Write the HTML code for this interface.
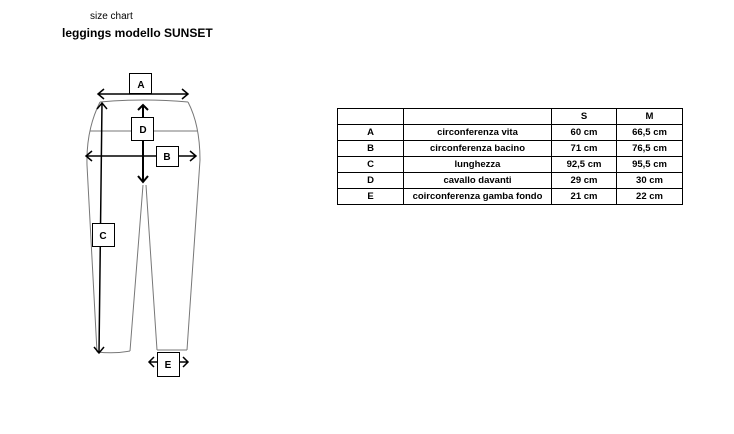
<!DOCTYPE html>
<html><head><style>
body{margin:0;width:734px;height:434px;background:#fff;position:relative;font-family:"Liberation Sans",sans-serif;overflow:hidden}
.t1{position:absolute;left:90px;top:11px;font-size:10px}
.t2{position:absolute;left:62px;top:26px;font-size:12px;font-weight:bold}
table{position:absolute;left:337px;top:108px;border-collapse:collapse;font-size:9.5px;font-weight:bold}
td{border:1px solid #000;height:15px;padding:0;text-align:center;line-height:15px}
</style></head><body>
<div class="t1">size chart</div>
<div class="t2">leggings modello SUNSET</div>
<svg width="734" height="434" style="position:absolute;left:0;top:0" font-family="Liberation Sans" font-size="10" font-weight="bold">
<g fill="none" stroke="#777" stroke-width="1">
<path d="M100 102 Q144 98 188 102"/>
<path d="M100 102 Q86 130 87 165 L97 352"/>
<path d="M188 102 Q200 125 200 160 L187 350"/>
<path d="M143 185 L130 351 M146 185 L157 350"/>
<path d="M97 352 Q115 354 130 351 M157 350 L187 350"/>
<path d="M90 131 L197 131"/>
</g>
<g stroke="#000" stroke-width="1.5" fill="none">
<path d="M98 94 L188 94 M104 89 L98 94 L104 99 M182 89 L188 94 L182 99"/>
<path d="M86 156 L196 156 M92 151 L86 156 L92 161 M190 151 L196 156 L190 161"/>
<path d="M102 103 L99 353 M97 109 L102 103 L107 109 M94 347 L99 353 L104 347"/>
<path d="M143 105 L143 182 M138 110 L143 105 L148 110 M138 176 L143 182 L148 176" stroke-width="2"/>
<path d="M149 362 L188 362 M154 357 L149 362 L154 367 M183 357 L188 362 L183 367"/>
</g>
<g fill="#fff" stroke="#000" stroke-width="1">
<rect x="129.5" y="73.5" width="22" height="20"/>
<rect x="131.5" y="117.5" width="22" height="23"/>
<rect x="156.5" y="146.5" width="22" height="20"/>
<rect x="92.5" y="223.5" width="22" height="23"/>
<rect x="157.5" y="352.5" width="22" height="24"/>
</g>
<g text-anchor="middle">
<text x="141" y="88">A</text><text x="143" y="133">D</text><text x="167" y="160">B</text><text x="103" y="239">C</text><text x="168" y="368">E</text>
</g>
</svg>
<table>
<tr><td style="width:65px"></td><td style="width:147px"></td><td style="width:64px">S</td><td style="width:65px">M</td></tr>
<tr><td>A</td><td>circonferenza vita</td><td>60 cm</td><td>66,5 cm</td></tr>
<tr><td>B</td><td>circonferenza bacino</td><td>71 cm</td><td>76,5 cm</td></tr>
<tr><td>C</td><td>lunghezza</td><td>92,5 cm</td><td>95,5 cm</td></tr>
<tr><td>D</td><td>cavallo davanti</td><td>29 cm</td><td>30 cm</td></tr>
<tr><td>E</td><td>coirconferenza gamba fondo</td><td>21 cm</td><td>22 cm</td></tr>
</table>
</body></html>
